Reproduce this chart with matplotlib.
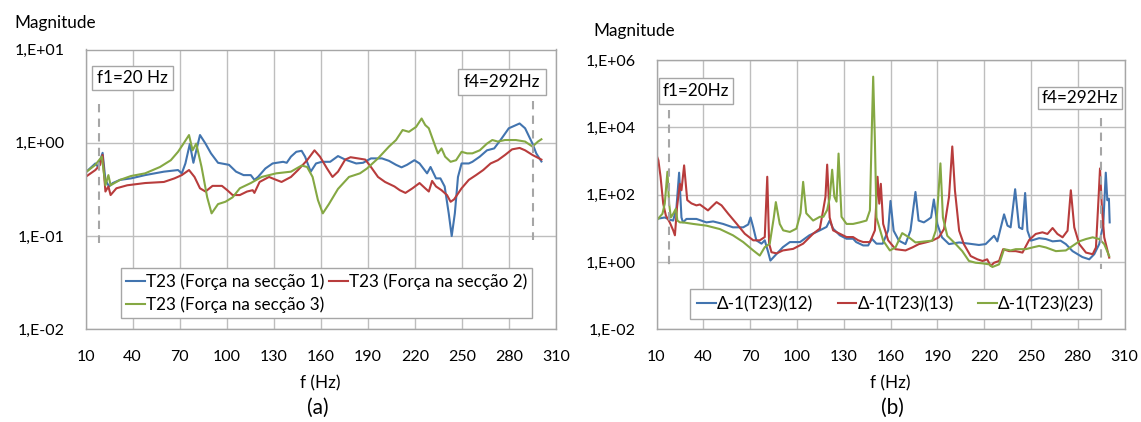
import math
import matplotlib
matplotlib.use("Agg")
import matplotlib.pyplot as plt
from matplotlib.patches import Rectangle
from matplotlib.ticker import FixedLocator, FuncFormatter, NullLocator

plt.rcParams['font.family'] = ['Lato', 'DejaVu Sans']

# ---------------- data: panel (a) ----------------
fa_s1 = [10, 16.3, 18, 20.9, 22.7, 25, 27.4, 32, 39, 48, 60, 69, 71.4, 73.7, 76.5, 78.8, 80.2, 83, 86.5, 90,
         94.5, 101.5, 106, 110.8, 115.4, 117.7, 120, 124.7, 129.3, 136, 138.3, 141, 144.4, 147.8, 150, 153.6,
         157, 160.6, 166, 171, 175.6, 182.6, 187, 192, 199, 203.5, 208, 211.5, 215, 219.7, 223, 227.8, 230,
         233.5, 236.3, 239, 241.6, 243.5, 245.5, 247.5, 249.8, 254.4, 256.7, 261.4, 266, 270.6, 275.3, 279.9,
         286.8, 290.3, 295, 297.4, 300.7]
ma_s1 = [0.48, 0.60, 0.55, 0.78, 0.40, 0.34, 0.37, 0.40, 0.415, 0.45, 0.49, 0.51, 0.47, 0.60, 0.97, 0.61, 0.77,
         1.21, 0.98, 0.77, 0.61, 0.58, 0.49, 0.45, 0.45, 0.40, 0.43, 0.53, 0.60, 0.625, 0.61, 0.71, 0.80, 0.82,
         0.71, 0.49, 0.60, 0.625, 0.625, 0.72, 0.66, 0.60, 0.61, 0.68, 0.68, 0.64, 0.58, 0.545, 0.58, 0.65, 0.60,
         0.47, 0.55, 0.415, 0.415, 0.34, 0.175, 0.10, 0.175, 0.43, 0.60, 0.60, 0.625, 0.71, 0.83, 0.87, 1.11,
         1.43, 1.61, 1.43, 0.98, 0.77, 0.63]

fa_s2 = [10, 16.3, 19.3, 20.9, 22.7, 24.6, 26, 29.7, 36.6, 48, 60, 66.7, 71.4, 76, 79.5, 83, 86.5, 91, 97,
         100.4, 103.8, 108.4, 113, 116.6, 117.7, 121, 127, 131.6, 135, 141, 145.5, 151.3, 156, 159.5, 164,
         167.5, 171, 175.6, 179, 183.7, 188.4, 192, 196.5, 201, 207, 210.4, 214, 218.5, 223, 226.6, 228.9, 231,
         233.5, 237, 240.5, 242.8, 245, 249.8, 254.4, 259, 263.6, 268.3, 272.9, 277.5, 282, 286.8, 290.3, 295,
         300.7]
ma_s2 = [0.43, 0.51, 0.58, 0.74, 0.30, 0.34, 0.275, 0.325, 0.35, 0.37, 0.38, 0.415, 0.45, 0.51, 0.43, 0.325,
         0.30, 0.345, 0.345, 0.31, 0.275, 0.275, 0.30, 0.31, 0.29, 0.38, 0.43, 0.40, 0.38, 0.43, 0.51, 0.65,
         0.83, 0.71, 0.53, 0.43, 0.49, 0.66, 0.70, 0.68, 0.66, 0.55, 0.43, 0.38, 0.34, 0.31, 0.29, 0.325, 0.37,
         0.325, 0.30, 0.39, 0.34, 0.31, 0.275, 0.233, 0.247, 0.325, 0.40, 0.45, 0.51, 0.60, 0.65, 0.74, 0.85,
         0.88, 0.83, 0.74, 0.66]

fa_s3 = [10, 16.3, 20.4, 22.7, 24.6, 26, 32, 39, 48, 57.5, 64.4, 69, 72.5, 76, 78.3, 80.6, 84, 87.6, 90.4, 94.5,
         99.2, 103.8, 108.4, 115.4, 122.3, 131.6, 141, 147.8, 151.3, 154.8, 158.2, 161.3, 165.2, 171, 178, 185,
         189.5, 196.5, 203.5, 208, 212.2, 216.2, 220.8, 224.3, 226.6, 228.9, 232.4, 234.7, 237, 239.3, 242.8,
         246.3, 249.8, 253.3, 256.7, 261.4, 266, 269.4, 272.9, 277.5, 284.4, 290.3, 295, 298.5, 300.7]
ma_s3 = [0.48, 0.58, 0.71, 0.35, 0.45, 0.35, 0.40, 0.44, 0.47, 0.55, 0.65, 0.80, 0.98, 1.21, 0.83, 0.98, 0.55,
         0.26, 0.175, 0.22, 0.233, 0.26, 0.325, 0.37, 0.43, 0.47, 0.49, 0.57, 0.55, 0.43, 0.243, 0.175, 0.22,
         0.32, 0.43, 0.47, 0.53, 0.68, 0.91, 1.07, 1.37, 1.31, 1.48, 1.82, 1.55, 1.43, 0.98, 0.77, 0.87, 0.71,
         0.625, 0.65, 0.80, 0.77, 0.77, 0.83, 0.98, 1.07, 1.03, 1.07, 1.07, 1.03, 0.91, 1.03, 1.09]

labels_a = ["T23 (Força na secção 1)", "T23 (Força na secção 2)", "T23 (Força na secção 3)"]

# ---------------- data: panel (b) ----------------
fb_12 = [10, 15.3, 18.5, 20.7, 22.8, 24.5, 26, 27, 29.2, 35.6, 42, 46.3, 52.7, 59, 65.6, 68.8, 70.3, 72, 74,
         77.3, 79.4, 81.6, 83, 87, 91, 95.5, 102, 108, 114.7, 119, 121, 123.2, 127.5, 131.8, 136, 138, 142.5,
         145.7, 148, 151, 155, 158.5, 160, 162, 165.4, 169.6, 172.8, 176, 178, 181.4, 184, 186, 187.8, 190,
         193, 197.5, 204, 210.3, 216.7, 221, 226.4, 228.5, 232.8, 235, 237, 239.9, 242.4, 244.5, 246.3, 247.8,
         250, 255.3, 259.6, 263.9, 269, 272.4, 276.7, 283, 287.4, 290.6, 293.8, 296.4, 298, 299, 300, 300.5]
mb_12 = [19, 21, 18, 17, 42, 450, 21, 15, 19, 19, 15, 16, 13.5, 10.7, 10.7, 13, 21, 10.7, 4.4, 3.5, 4.4, 1.95,
         1.1, 1.74, 2.75, 3.9, 3.9, 6.2, 8.7, 11, 17, 9.8, 6.2, 4.9, 4.9, 3.9, 3.1, 3.1, 4.9, 3.5, 3.5, 8.7, 65,
         8.5, 4.3, 3.4, 8.5, 120, 17, 15, 18, 21, 72, 13.5, 5.4, 3.4, 3.8, 3.5, 3.2, 3.4, 6.0, 4.1, 26, 12,
         10.7, 145, 10.7, 9.5, 112, 8.5, 4.3, 5.1, 4.8, 4.1, 4.3, 3.4, 2.1, 1.4, 1.2, 1.7, 3.4, 13.5, 450, 68,
         76, 15]

fb_13 = [10, 11.2, 12.6, 14.3, 16, 18.5, 20.7, 21.8, 23.2, 25, 26, 27.7, 29.7, 32.4, 35.6, 37.8, 40, 43, 45.2,
         48.5, 51.7, 56, 61.3, 66.6, 72, 76.2, 79.4, 81, 82.2, 83.7, 87, 91, 97.6, 104, 110.4, 114.7, 116.8,
         118.3, 119.4, 121, 123.2, 127.5, 131.8, 136, 139.3, 142.5, 146.8, 150, 151.7, 152.8, 153.8, 155.3,
         158.5, 163.2, 169.6, 174, 178.2, 182.5, 186.8, 191, 194.3, 197.5, 199.6, 201.3, 204, 207, 211.4,
         215.7, 219, 222, 224.2, 226.4, 229.6, 232.2, 236, 240.3, 244.6, 248.9, 253.1, 257.4, 260.6, 263.9,
         267, 270.3, 273.5, 275.6, 277.8, 281, 285.3, 289.6, 291.7, 293.4, 294.3, 295.5, 297, 300.2]
mb_13 = [1500, 1050, 340, 54, 24, 15, 8.7, 6.2, 44, 210, 135, 740, 69, 55, 48, 51, 43, 34, 43, 60, 48, 27, 13.8,
         6.9, 4.4, 4.4, 5.5, 340, 3.5, 1.95, 1.8, 2.2, 2.45, 3.5, 6.9, 9.8, 34, 85, 780, 21, 8.7, 6.9, 5.5, 5.5,
         4.4, 3.9, 3.9, 8.7, 340, 54, 210, 13.5, 4.4, 2.4, 2.2, 2.7, 3.4, 3.8, 4.3, 5.4, 9.5, 85, 2700, 135,
         8.5, 3.4, 1.5, 1.2, 1.07, 1.2, 0.76, 0.95, 1.07, 2.4, 2.1, 2.1, 1.9, 4.5, 6.8, 7.6, 6.8, 10.2, 6.8,
         5.4, 8.5, 135, 10.7, 3.4, 1.9, 1.7, 2.7, 85, 600, 43, 5.4, 1.35]

fb_23 = [10, 13.8, 15.3, 17, 18.1, 19.2, 20.7, 22.4, 23.4, 25, 27, 33.5, 42, 50.6, 59, 65.6, 72, 76.2, 79.4,
         82.6, 85.2, 86.5, 89, 91.2, 95.5, 99.7, 102.3, 104, 106, 110.4, 114.7, 117, 119.4, 121, 122.6, 124,
         125.4, 126.7, 128.6, 131.8, 136, 140.3, 144.6, 146.8, 148, 148.9, 150, 151, 155.3, 159.6, 163.2,
         167.5, 171.8, 176, 182.5, 186.8, 189, 190.6, 192, 193.6, 196.4, 201.8, 206, 210.3, 214.6, 218.9,
         223.2, 225.3, 229.6, 232.8, 237, 240.3, 246.7, 251, 255.3, 259.6, 266, 272.4, 276.7, 281, 285.3,
         289.6, 293.8, 297, 300.2]
mb_23 = [17, 27, 54, 480, 54, 21, 27, 38, 17, 15, 15, 13.5, 12, 9.5, 6.2, 3.9, 2.2, 1.55, 2.75, 3.5, 21, 60,
         13.5, 8.7, 7.8, 9.8, 28, 240, 28, 17, 22, 22, 35, 78, 550, 87, 62, 1660, 22, 13.5, 13.5, 15, 17, 34,
         8000, 320000, 4000, 21, 4.3, 2.2, 2.7, 7.2, 5.4, 3.8, 4.1, 4.3, 8.5, 85, 850, 21, 6.0, 3.4, 2.1, 1.07,
         0.95, 0.91, 0.85, 0.71, 0.85, 2.4, 2.2, 2.4, 2.4, 2.7, 3.0, 2.7, 2.1, 2.2, 3.0, 4.1, 4.8, 5.4, 4.8,
         3.4, 1.5]

labels_b = ["Δ-1(T23)(12)", "Δ-1(T23)(13)", "Δ-1(T23)(23)"]

x_ticks = [10, 40, 70, 100, 130, 160, 190, 220, 250, 280, 310]
a_yticks = [1e-2, 1e-1, 1e0, 1e1]
b_yticks = [1e-2, 1e0, 1e2, 1e4, 1e6]

# ---------------- styling ----------------
C_BLUE = '#4274AF'
C_RED = '#B83C3C'
C_GREEN = '#85A843'
GRID = '#BEBEBE'
SPINE = '#A6A6A6'
DASH = '#A6A6A6'
FS_TICK = 11.5
FS = 12.3

W, H = 1141, 422
fig = plt.figure(figsize=(W / 100, H / 100), dpi=100)


def fx(px):
    return px / W


def fy(py):
    return 1 - py / H


def px_axes(l, r, t, b):
    return fig.add_axes([l / W, (H - b) / H, (r - l) / W, (b - t) / H])


def sci_fmt(v, pos):
    e = int(round(math.log10(v)))
    return "1,E%s%02d" % ('+' if e >= 0 else '-', abs(e))


def style(ax, yticks):
    ax.set_xlim(10, 310)
    ax.set_yscale('log')
    ax.set_ylim(yticks[0], yticks[-1])
    ax.xaxis.set_major_locator(FixedLocator(x_ticks))
    ax.yaxis.set_major_locator(FixedLocator(yticks))
    ax.yaxis.set_minor_locator(NullLocator())
    ax.yaxis.set_major_formatter(FuncFormatter(sci_fmt))
    ax.grid(True, color=GRID, lw=1.0)
    ax.set_axisbelow(True)
    for s in ax.spines.values():
        s.set_color(SPINE)
        s.set_linewidth(1.0)
    ax.tick_params(axis='both', length=0, labelsize=FS_TICK, colors='black')
    ax.tick_params(axis='x', pad=15)
    ax.tick_params(axis='y', pad=15)
    ax.set_xlabel("f (Hz)", fontsize=FS, labelpad=8)


def box_text(ax, l, r, t, b, s):
    rect = Rectangle((fx(l), fy(b)), fx(r) - fx(l), fy(t) - fy(b), transform=fig.transFigure,
                     fc='white', ec=SPINE, lw=1.0, zorder=5, clip_on=False)
    ax.add_patch(rect)
    ax.text(fx((l + r) / 2), fy((t + b) / 2), s, transform=fig.transFigure, ha='center',
            va='center', fontsize=FS, zorder=6)


def legend_box(ax, handles, labels, ncol, l, r, t, b, **kw):
    leg = ax.legend(handles, labels, ncol=ncol, loc='center', mode='expand',
                    bbox_to_anchor=(fx(l), fy(b), fx(r) - fx(l), fy(t) - fy(b)),
                    bbox_transform=fig.transFigure, fontsize=FS, frameon=True, fancybox=False,
                    edgecolor=SPINE, framealpha=1, handlelength=1.1, handletextpad=0.05,
                    borderaxespad=0, **kw)
    leg.get_frame().set_linewidth(1.0)
    return leg


LW = 1.5
DASHSTYLE = (0, (4, 3))

# ---------------- panel (a) ----------------
axa = px_axes(85.5, 556, 49.5, 329.3)
style(axa, a_yticks)
h1, = axa.plot(fa_s1, ma_s1, color=C_BLUE, lw=LW)
h2, = axa.plot(fa_s2, ma_s2, color=C_RED, lw=LW)
h3, = axa.plot(fa_s3, ma_s3, color=C_GREEN, lw=LW)
axa.plot([18.6, 18.6], [2.6, 0.084], color=DASH, lw=1.5, ls=DASHSTYLE)
axa.plot([295.3, 295.3], [2.8, 0.091], color=DASH, lw=1.5, ls=DASHSTYLE)
box_text(axa, 91.6, 173, 66, 90, "f1=20 Hz")
box_text(axa, 458, 546, 69, 95, "f4=292Hz")
legend_box(axa, [h1, h3, h2], [labels_a[0], labels_a[2], labels_a[1]], 2,
           121, 532, 267, 319, columnspacing=0.8, labelspacing=0.35, borderpad=0.3)

# ---------------- panel (b) ----------------
axb = px_axes(656.5, 1124.5, 60, 329.3)
style(axb, b_yticks)
g1, = axb.plot(fb_12, mb_12, color=C_BLUE, lw=LW)
g2, = axb.plot(fb_13, mb_13, color=C_RED, lw=LW)
g3, = axb.plot(fb_23, mb_23, color=C_GREEN, lw=LW)
axb.plot([18.2, 18.2], [3.2e4, 0.58], color=DASH, lw=1.5, ls=DASHSTYLE)
axb.plot([295, 295], [1.9e4, 0.62], color=DASH, lw=1.5, ls=DASHSTYLE)
box_text(axb, 659, 733, 78, 104, "f1=20Hz")
box_text(axb, 1038, 1121.6, 87, 109, "f4=292Hz")
legend_box(axb, [g1, g2, g3], labels_b, 3, 690, 1101, 288, 320,
           columnspacing=1.2, borderpad=0.4)

# ---------------- figure texts ----------------
fig.text(fx(14.5), fy(22.7), "Magnitude", fontsize=FS, ha='left', va='center')
fig.text(fx(593.6), fy(30.7), "Magnitude", fontsize=FS, ha='left', va='center')
fig.text(fx(318), fy(408), "(a)", fontsize=15, ha='center', va='center')
fig.text(fx(892), fy(408), "(b)", fontsize=15, ha='center', va='center')

fig.savefig("out.png", dpi=100)
